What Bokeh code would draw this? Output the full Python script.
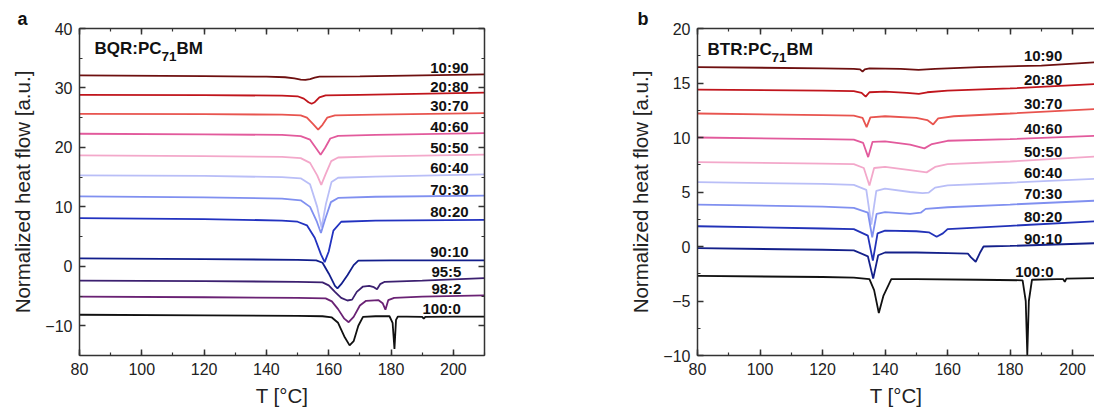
from bokeh.plotting import figure
from bokeh.layouts import row
from bokeh.models import (SingleIntervalTicker, LinearAxis, Range1d, Label,
                          CustomJSTickFormatter, ColumnDataSource)
from bokeh.core.properties import value
from bokeh.embed import file_html
from bokeh.resources import INLINE

FONT = "Liberation Sans"

# ---------------- Panel a : BQR:PC71BM ----------------
a_names = ["10:90", "20:80", "30:70", "40:60", "50:50", "60:40", "70:30",
           "80:20", "90:10", "95:5", "98:2", "100:0"]
a_colors = ["#6e1010", "#c0151c", "#e8544f", "#e25a9c", "#f3a8ca", "#b9bef7",
            "#8090f0", "#2232c0", "#121e8c", "#3c2070", "#6a2274", "#111111"]

a_T_10_90 = [80, 120, 140, 146, 149, 151, 152.5, 154, 155.5, 157, 170, 210]
a_Y_10_90 = [32.1, 32.0, 31.9, 31.8, 31.6, 31.4, 31.35, 31.5, 31.75, 31.9, 31.95, 32.3]
a_T_20_80 = [80, 120, 145, 150, 152, 153.5, 154.5, 155.5, 157, 159, 170, 210]
a_Y_20_80 = [28.85, 28.8, 28.7, 28.6, 28.2, 27.6, 27.35, 27.6, 28.4, 28.75, 28.85, 29.2]
a_T_30_70 = [80, 120, 145, 151, 153, 155, 156.6, 158, 159.5, 162, 175, 210]
a_Y_30_70 = [25.65, 25.6, 25.5, 25.4, 25.0, 23.9, 23.0, 23.8, 25.0, 25.4, 25.5, 25.75]
a_T_40_60 = [80, 120, 145, 151, 154, 156, 157.4, 158.8, 160.5, 163, 175, 210]
a_Y_40_60 = [22.3, 22.2, 22.1, 21.9, 21.3, 19.8, 18.75, 19.9, 21.5, 21.95, 22.1, 22.4]
a_T_50_50 = [80, 120, 145, 151, 154, 156.3, 157.6, 159, 160.8, 163, 175, 210]
a_Y_50_50 = [18.65, 18.55, 18.4, 18.2, 17.4, 15.3, 13.7, 15.5, 17.7, 18.3, 18.5, 18.8]
a_T_60_40 = [80, 120, 145, 151, 154, 156.3, 157.7, 159.1, 160.9, 163, 175, 210]
a_Y_60_40 = [15.3, 15.2, 15.0, 14.8, 13.8, 10.0, 6.5, 10.5, 14.2, 14.9, 15.1, 15.45]
a_T_70_30 = [80, 120, 145, 151, 154, 156.2, 157.5, 158.9, 160.7, 163, 175, 210]
a_Y_70_30 = [11.75, 11.6, 11.4, 11.1, 10.0, 7.5, 5.6, 8.0, 10.8, 11.5, 11.7, 11.9]
a_T_80_20 = [80, 120, 145, 150, 153, 155.5, 157.5, 158.7, 160, 161.5, 164, 175, 210]
a_Y_80_20 = [8.1, 7.95, 7.7, 7.5, 6.9, 4.8, 2.0, 0.7, 2.5, 6.0, 7.5, 7.7, 7.8]
a_T_90_10 = [80, 120, 150, 156, 158, 160, 162, 162.8, 164, 166, 168, 169.5, 180, 210]
a_Y_90_10 = [1.35, 1.2, 1.1, 1.0, 0.6, -1.2, -3.3, -3.7, -3.0, -1.5, 0.2, 0.95, 1.0, 1.0]
a_T_95_5 = [80, 120, 150, 158, 160, 162, 164, 166, 167.5, 169, 171, 173, 174.5,
            175.5, 176.5, 178, 190, 210]
a_Y_95_5 = [-2.4, -2.5, -2.6, -2.7, -3.2, -4.3, -5.3, -5.75, -5.6, -4.3, -3.4, -3.3,
            -3.5, -3.85, -3.0, -2.6, -2.4, -2.0]
a_T_98_2 = [80, 120, 150, 159, 161, 163, 165, 166.4, 168, 170, 172, 176, 177.3,
            178.2, 179.1, 181, 190, 210]
a_Y_98_2 = [-5.1, -5.2, -5.3, -5.4, -5.9, -7.2, -8.8, -9.4, -8.5, -6.6, -5.8, -5.7,
            -6.2, -7.3, -5.7, -5.3, -5.1, -4.9]
a_T_100_0 = [80, 120, 150, 158, 161, 163, 165, 166.7, 168, 169.5, 171, 175, 179.5,
             180.5, 181.1, 181.6, 182.2, 185, 190, 190.5, 191, 200, 210]
a_Y_100_0 = [-8.15, -8.25, -8.35, -8.4, -8.6, -9.5, -11.8, -13.3, -12.6, -10.0, -8.5,
             -8.4, -8.4, -9.5, -13.9, -9.0, -8.45, -8.45, -8.5, -8.8, -8.5, -8.45, -8.45]

a_T = [a_T_10_90, a_T_20_80, a_T_30_70, a_T_40_60, a_T_50_50, a_T_60_40,
       a_T_70_30, a_T_80_20, a_T_90_10, a_T_95_5, a_T_98_2, a_T_100_0]
a_Y = [a_Y_10_90, a_Y_20_80, a_Y_30_70, a_Y_40_60, a_Y_50_50, a_Y_60_40,
       a_Y_70_30, a_Y_80_20, a_Y_90_10, a_Y_95_5, a_Y_98_2, a_Y_100_0]
a_label_x = [204.9, 204.9, 204.9, 204.9, 204.9, 204.9, 204.9, 204.9, 204.9,
             202.6, 202.6, 202.4]
a_label_y = [33.5, 30.3, 27.05, 23.6, 20.0, 16.7, 12.9, 9.3, 2.5, -0.95, -3.65, -7.1]

# ---------------- Panel b : BTR:PC71BM ----------------
b_names = ["10:90", "20:80", "30:70", "40:60", "50:50", "60:40", "70:30",
           "80:20", "90:10", "100:0"]
b_colors = ["#6e1010", "#c0151c", "#e8544f", "#e25a9c", "#f3a8ca", "#b9bef7",
            "#8090f0", "#2232b8", "#14208a", "#111111"]

b_T_10_90 = [80, 120, 130, 132, 132.8, 133.5, 135, 145, 150.7, 156, 170, 190, 207]
b_Y_10_90 = [16.45, 16.35, 16.3, 16.25, 16.05, 16.25, 16.35, 16.3, 16.2, 16.3, 16.45, 16.6, 16.9]
b_T_20_80 = [80, 120, 130, 132.5, 133.8, 135, 140, 147, 150.8, 153.5, 160, 180, 207]
b_Y_20_80 = [14.4, 14.3, 14.25, 14.1, 13.75, 14.15, 14.2, 14.1, 14.0, 14.15, 14.3, 14.5, 14.9]
b_T_30_70 = [80, 120, 130, 132.8, 134.1, 135.3, 140, 150, 153.5, 155.4, 157, 162, 180, 207]
b_Y_30_70 = [12.2, 12.05, 12.0, 11.8, 10.95, 11.85, 11.95, 11.8, 11.6, 11.2, 11.75, 11.95, 12.2, 12.6]
b_T_40_60 = [80, 120, 130, 133, 134.6, 136, 140, 148, 152.6, 155, 160, 180, 207]
b_Y_40_60 = [10.0, 9.85, 9.8, 9.5, 8.2, 9.6, 9.65, 9.35, 9.0, 9.4, 9.7, 9.85, 10.15]
b_T_50_50 = [80, 120, 130, 133.2, 135.0, 136.5, 140, 148, 153.3, 156, 160, 180, 207]
b_Y_50_50 = [7.75, 7.6, 7.55, 7.2, 5.6, 7.2, 7.3, 7.0, 6.8, 7.3, 7.55, 7.8, 8.25]
b_T_60_40 = [80, 120, 130, 134, 135.6, 137.2, 140, 148, 152, 154, 156, 160, 180, 207]
b_Y_60_40 = [5.9, 5.75, 5.65, 5.2, 2.0, 5.1, 5.3, 5.0, 4.9, 4.95, 5.4, 5.6, 5.85, 6.2]
b_T_70_30 = [80, 120, 130, 134.5, 135.9, 137.3, 140, 148, 151.4, 153, 160, 180, 207]
b_Y_70_30 = [3.85, 3.65, 3.55, 3.1, 0.85, 3.0, 3.15, 3.0, 3.1, 3.45, 3.6, 3.85, 4.2]
b_T_80_20 = [80, 120, 130, 134.5, 136.1, 137.6, 140, 150, 154, 156.5, 158.5, 160, 180, 207]
b_Y_80_20 = [1.86, 1.65, 1.6, 1.0, -1.3, 1.2, 1.45, 1.4, 1.3, 0.9, 1.2, 1.6, 1.9, 2.3]
b_T_90_10 = [80, 120, 130, 134.5, 136.2, 137.8, 140, 150, 160, 166.5, 167.5, 169,
             170.5, 171.5, 180, 207]
b_Y_90_10 = [-0.15, -0.3, -0.35, -0.9, -2.95, -0.8, -0.55, -0.55, -0.6, -0.65, -1.0,
             -1.4, -0.5, 0.0, 0.05, 0.3]
b_T_100_0 = [80, 120, 130, 135, 136.5, 138, 139.5, 142, 150, 170, 184, 185, 185.5,
             186, 187, 195, 197, 197.5, 198, 207]
b_Y_100_0 = [-2.7, -2.8, -2.85, -3.0, -4.0, -6.1, -4.5, -3.0, -3.0, -3.05, -3.1, -5.0,
             -9.95, -5.0, -3.05, -3.0, -3.0, -3.25, -2.95, -2.9]

b_T = [b_T_10_90, b_T_20_80, b_T_30_70, b_T_40_60, b_T_50_50, b_T_60_40,
       b_T_70_30, b_T_80_20, b_T_90_10, b_T_100_0]
b_Y = [b_Y_10_90, b_Y_20_80, b_Y_30_70, b_Y_40_60, b_Y_50_50, b_Y_60_40,
       b_Y_70_30, b_Y_80_20, b_Y_90_10, b_Y_100_0]
b_label_x = [196.7, 196.7, 196.7, 196.7, 196.7, 196.7, 196.7, 196.7, 196.7, 193.9]
b_label_y = [17.5, 15.3, 13.15, 10.8, 8.75, 6.8, 4.85, 2.75, 0.75, -2.3]

AX = "#333333"


def style_axis(ax, blank=False):
    ax.axis_line_color = AX
    ax.axis_line_width = 1.5
    ax.major_tick_line_color = AX
    ax.major_tick_line_width = 1.5
    ax.minor_tick_line_color = AX
    ax.minor_tick_line_width = 1.2
    ax.major_tick_in = 6
    ax.major_tick_out = 0
    ax.minor_tick_in = 3
    ax.minor_tick_out = 0
    ax.major_label_text_font = FONT
    ax.major_label_text_font_size = "16px"
    ax.major_label_text_color = "#222222"
    ax.axis_label_text_font = FONT
    ax.axis_label_text_font_size = "20.5px"
    ax.axis_label_text_font_style = "normal"
    ax.axis_label_text_color = "#222222"
    if blank:
        ax.formatter = CustomJSTickFormatter(code="return ''")
        ax.major_label_standoff = 0


def make_panel(width, xr, yr, yint, border_left, border_right, right_axis,
               T_list, Y_list, colors, names, lx, ly, letter, letter_offset,
               title_parts):
    p = figure(width=width, height=414, x_range=Range1d(*xr), y_range=Range1d(*yr),
               output_backend="svg", toolbar_location=None, title=letter,
               min_border_left=border_left, min_border_right=border_right,
               min_border_top=28, min_border_bottom=59)
    p.grid.visible = False
    p.outline_line_color = None
    p.background_fill_color = "white"
    p.border_fill_color = "white"

    p.title.align = "left"
    p.title.offset = letter_offset
    p.title.standoff = 0
    p.title.text_font = FONT
    p.title.text_font_size = "18px"
    p.title.text_font_style = "bold"
    p.title.text_color = "#111111"

    p.xaxis.ticker = SingleIntervalTicker(interval=20, num_minor_ticks=2)
    p.yaxis.ticker = SingleIntervalTicker(interval=yint, num_minor_ticks=2)
    p.xaxis.axis_label = "T [°C]"
    p.yaxis.axis_label = "Normalized heat flow [a.u.]"
    for ax in p.xaxis + p.yaxis:
        style_axis(ax)
    p.xaxis.major_label_standoff = 7
    p.xaxis.axis_label_standoff = 6
    p.yaxis.major_label_standoff = 7
    p.yaxis.axis_label_standoff = 8

    top = LinearAxis(ticker=SingleIntervalTicker(interval=20, num_minor_ticks=2))
    style_axis(top, blank=True)
    p.add_layout(top, "above")
    if right_axis:
        rt = LinearAxis(ticker=SingleIntervalTicker(interval=yint, num_minor_ticks=2))
        style_axis(rt, blank=True)
        p.add_layout(rt, "right")

    for T, Y, c in zip(T_list, Y_list, colors):
        p.line(T, Y, line_color=c, line_width=1.8)

    src = ColumnDataSource(dict(x=lx, y=ly, t=names))
    p.text(x="x", y="y", text="t", source=src, text_align="right",
           text_baseline="middle", text_font=value(FONT), text_font_style="bold",
           text_font_size="15px", text_color="#111111")

    for (tx, ty, txt, size) in title_parts:
        p.add_layout(Label(x=tx, y=ty, text=txt, text_font=FONT,
                           text_font_style="bold", text_font_size=size,
                           text_color="#111111", text_baseline="middle",
                           text_align="left"))
    return p


pa = make_panel(540, (80, 210), (-15, 40), 10, 79, 56, True, a_T, a_Y, a_colors,
                a_names, a_label_x, a_label_y, "a", -62,
                [(84.8, 36.64, "BQR:PC", "17px"), (106.3, 35.3, "71", "13.5px"),
                 (111.1, 36.64, "BM", "17px")])
pb = make_panel(554, (80, 207), (-10, 20), 5, 157, 0, False, b_T, b_Y, b_colors,
                b_names, b_label_x, b_label_y, "b", -60,
                [(83.2, 18.07, "BTR:PC", "17px"), (103.7, 17.34, "71", "13.5px"),
                 (108.5, 18.07, "BM", "17px")])

p = row(pa, pb)
open("out.html", "w").write(file_html(p, INLINE))
